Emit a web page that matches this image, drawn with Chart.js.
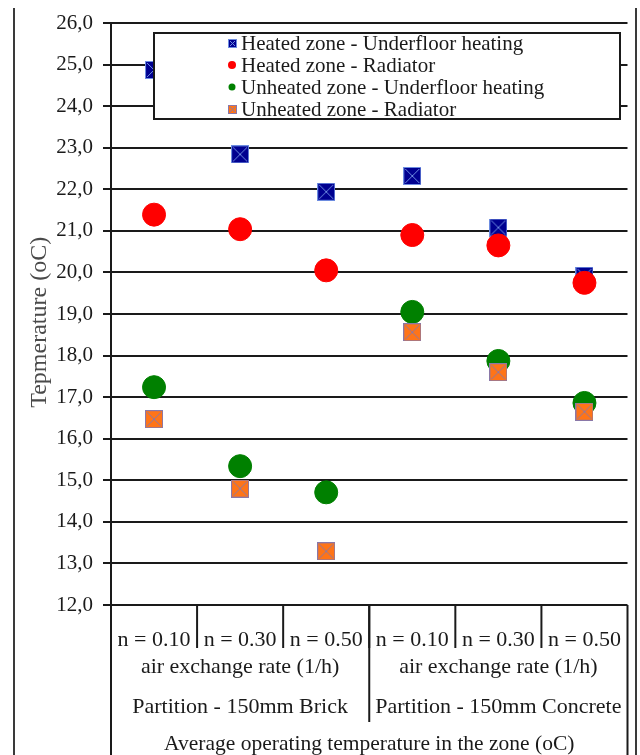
<!DOCTYPE html>
<html>
<head>
<meta charset="utf-8">
<script src="https://cdn.jsdelivr.net/npm/chart.js@4.4.1/dist/chart.umd.min.js"></script>
<style>
html,body{margin:0;padding:0;background:#fff;}
#wrap{width:640px;height:755px;position:relative;}
canvas{display:block;}
</style>
</head>
<body>
<div id="wrap"><canvas id="c" width="640" height="755" style="width:640px;height:755px"></canvas></div>
<script>
// ---- data ----
const categories = ['n = 0.10', 'n = 0.30', 'n = 0.50', 'n = 0.10', 'n = 0.30', 'n = 0.50'];
const rateLabels = ['air exchange rate (1/h)', 'air exchange rate (1/h)'];
const partitionLabels = ['Partition - 150mm Brick', 'Partition - 150mm Concrete'];
const groupSizes = [3, 3];
const xAxisTitle = 'Average operating temperature in the zone (oC)';
const yAxisTitle = 'Tepmerature (oC)';
const yMin = 12, yMax = 26, yStep = 1;

const seriesNames = [
  'Heated zone - Underfloor heating',
  'Heated zone - Radiator',
  'Unheated zone - Underfloor heating',
  'Unheated zone - Radiator'
];
const heatedUnderfloor = [24.87, 22.84, 21.94, 22.32, 21.08, 19.92];
const heatedRadiator   = [21.39, 21.04, 20.05, 20.90, 20.65, 19.75];
const unheatedUnderfloor = [17.24, 15.34, 14.71, 19.05, 17.87, 16.86];
const unheatedRadiator   = [16.47, 14.80, 13.29, 18.56, 17.60, 16.65];

// ---- styles ----
const FONT_FAMILY = '"Liberation Serif", "Times New Roman", serif';
const TEXT_COLOR = '#1a1a1a';
const LINE_COLOR = '#1a1a1a';

function squareX(size, fill, line) {
  const c = document.createElement('canvas');
  c.width = size; c.height = size;
  const g = c.getContext('2d');
  g.fillStyle = fill;
  g.fillRect(0, 0, size, size);
  g.strokeStyle = line;
  g.lineWidth = 1;
  g.strokeRect(0.5, 0.5, size - 1, size - 1);
  g.beginPath();
  g.moveTo(2, 2); g.lineTo(size - 2, size - 2);
  g.moveTo(size - 2, 2); g.lineTo(2, size - 2);
  g.stroke();
  return c;
}
const blueMarker = squareX(18, '#000090', '#6d8ce0');
const orangeMarker = squareX(18, '#ff7417', '#8a78a8');
const blueLegend = squareX(9, '#000090', '#6d8ce0');
const orangeLegend = squareX(9, '#ff7417', '#8a78a8');

const legendMarkers = [
  {type: 'img', img: blueLegend},
  {type: 'circle', color: '#ff0000', r: 4},
  {type: 'circle', color: '#008000', r: 3.5},
  {type: 'img', img: orangeLegend}
];

const frameAndTablePlugin = {
  id: 'frameAndTable',
  afterDraw(chart) {
    const ctx = chart.ctx;
    const xs = chart.scales.x;
    const top = xs.top;
    const n = categories.length;
    const px = i => xs.getPixelForValue(i);
    const bounds = [xs.left];
    for (let i = 1; i < n; i++) bounds.push((px(i - 1) + px(i)) / 2);
    bounds.push(xs.right);

    ctx.save();
    ctx.strokeStyle = LINE_COLOR;
    ctx.lineWidth = 2;
    // interior category separators (first row)
    for (let i = 1; i < n; i++) {
      ctx.beginPath(); ctx.moveTo(bounds[i], top); ctx.lineTo(bounds[i], top + 43); ctx.stroke();
    }
    // group separators
    let acc = 0;
    for (let g = 0; g < groupSizes.length - 1; g++) {
      acc += groupSizes[g];
      ctx.beginPath(); ctx.moveTo(bounds[acc], top); ctx.lineTo(bounds[acc], top + 117); ctx.stroke();
    }
    // outer boundaries
    ctx.beginPath(); ctx.moveTo(bounds[0], top); ctx.lineTo(bounds[0], chart.height); ctx.stroke();
    ctx.beginPath(); ctx.moveTo(bounds[n], top); ctx.lineTo(bounds[n], chart.height); ctx.stroke();

    // group labels
    ctx.fillStyle = TEXT_COLOR;
    ctx.font = '22px ' + FONT_FAMILY;
    ctx.textAlign = 'center';
    ctx.textBaseline = 'middle';
    acc = 0;
    for (let g = 0; g < groupSizes.length; g++) {
      const cx = (bounds[acc] + bounds[acc + groupSizes[g]]) / 2;
      ctx.fillText(rateLabels[g], cx, top + 62);
      ctx.fillText(partitionLabels[g], cx, top + 102);
      acc += groupSizes[g];
    }

    // y-axis title (rotated)
    const ys = chart.scales.y;
    ctx.save();
    ctx.translate(40, ys.getPixelForValue(18.8));
    ctx.rotate(-Math.PI / 2);
    ctx.font = '24px ' + FONT_FAMILY;
    ctx.fillStyle = '#4a4a4a';
    ctx.textAlign = 'center';
    ctx.textBaseline = 'middle';
    ctx.fillText(yAxisTitle, 0, 0);
    ctx.restore();

    // outer frame lines
    ctx.strokeStyle = '#3a3a3a';
    ctx.lineWidth = 2;
    ctx.beginPath(); ctx.moveTo(14, 8); ctx.lineTo(14, chart.height); ctx.stroke();
    ctx.beginPath(); ctx.moveTo(636, 8); ctx.lineTo(636, chart.height); ctx.stroke();
    ctx.restore();
  },
  afterDatasetsDraw(chart) {
    const ctx = chart.ctx;
    const box = {left: 154, top: 33, right: 620, bottom: 119};
    const markerX = 232, textX = 241, rowY = [43, 65, 87, 109];
    ctx.save();
    ctx.fillStyle = '#ffffff';
    ctx.fillRect(box.left, box.top, box.right - box.left, box.bottom - box.top);
    ctx.strokeStyle = LINE_COLOR;
    ctx.lineWidth = 2;
    ctx.strokeRect(box.left, box.top, box.right - box.left, box.bottom - box.top);
    ctx.font = '21px ' + FONT_FAMILY;
    ctx.fillStyle = TEXT_COLOR;
    ctx.textAlign = 'left';
    ctx.textBaseline = 'middle';
    chart.data.datasets.forEach((ds, i) => {
      const m = legendMarkers[i];
      const y = rowY[i];
      if (m.type === 'img') {
        ctx.drawImage(m.img, Math.round(markerX - m.img.width / 2), Math.round(y - m.img.height / 2));
      } else {
        ctx.beginPath();
        ctx.arc(markerX, y, m.r, 0, Math.PI * 2);
        ctx.fillStyle = m.color;
        ctx.fill();
      }
      ctx.fillStyle = TEXT_COLOR;
      ctx.fillText(ds.label, textX, y + 1);
    });
    ctx.restore();
  }
};

const ctx = document.getElementById('c').getContext('2d');
new Chart(ctx, {
  type: 'line',
  data: {
    labels: categories,
    datasets: [
      {label: seriesNames[0], data: heatedUnderfloor, showLine: false, pointStyle: blueMarker, pointRadius: 9, pointHoverRadius: 9, backgroundColor: '#000090', borderColor: '#000090', order: 4},
      {label: seriesNames[1], data: heatedRadiator, showLine: false, pointStyle: 'circle', pointRadius: 11.5, pointHoverRadius: 11.5, backgroundColor: '#ff0000', borderColor: '#ff0000', pointBorderWidth: 1, order: 3},
      {label: seriesNames[2], data: unheatedUnderfloor, showLine: false, pointStyle: 'circle', pointRadius: 11.5, pointHoverRadius: 11.5, backgroundColor: '#008000', borderColor: '#008000', pointBorderWidth: 1, order: 2},
      {label: seriesNames[3], data: unheatedRadiator, showLine: false, pointStyle: orangeMarker, pointRadius: 9, pointHoverRadius: 9, backgroundColor: '#ff7417', borderColor: '#ff7417', order: 1}
    ]
  },
  options: {
    responsive: false,
    maintainAspectRatio: false,
    animation: false,
    devicePixelRatio: 1,
    clip: false,
    layout: {padding: {left: 53, top: 23, right: 12, bottom: 0}},
    plugins: {
      legend: {display: false},
      tooltip: {enabled: false}
    },
    scales: {
      x: {
        type: 'category',
        offset: true,
        afterFit(s) { s.height = 150; },
        grid: {display: false},
        border: {display: false},
        ticks: {
          font: {family: FONT_FAMILY, size: 22},
          color: TEXT_COLOR,
          padding: 14,
          autoSkip: false,
          maxRotation: 0,
          minRotation: 0
        },
        title: {
          display: true,
          text: xAxisTitle,
          font: {family: FONT_FAMILY, size: 21.5, lineHeight: 1},
          color: TEXT_COLOR,
          padding: 0
        }
      },
      y: {
        min: yMin,
        max: yMax,
        afterFit(s) { s.width = 58; },
        ticks: {
          stepSize: yStep,
          font: {family: FONT_FAMILY, size: 21},
          color: TEXT_COLOR,
          padding: 10,
          callback: v => v.toFixed(1).replace('.', ',')
        },
        grid: {color: LINE_COLOR, lineWidth: 2, tickLength: 8, drawTicks: true},
        border: {display: true, color: LINE_COLOR, width: 2},
        title: {display: false}
      }
    }
  },
  plugins: [frameAndTablePlugin]
});
</script>
</body>
</html>
